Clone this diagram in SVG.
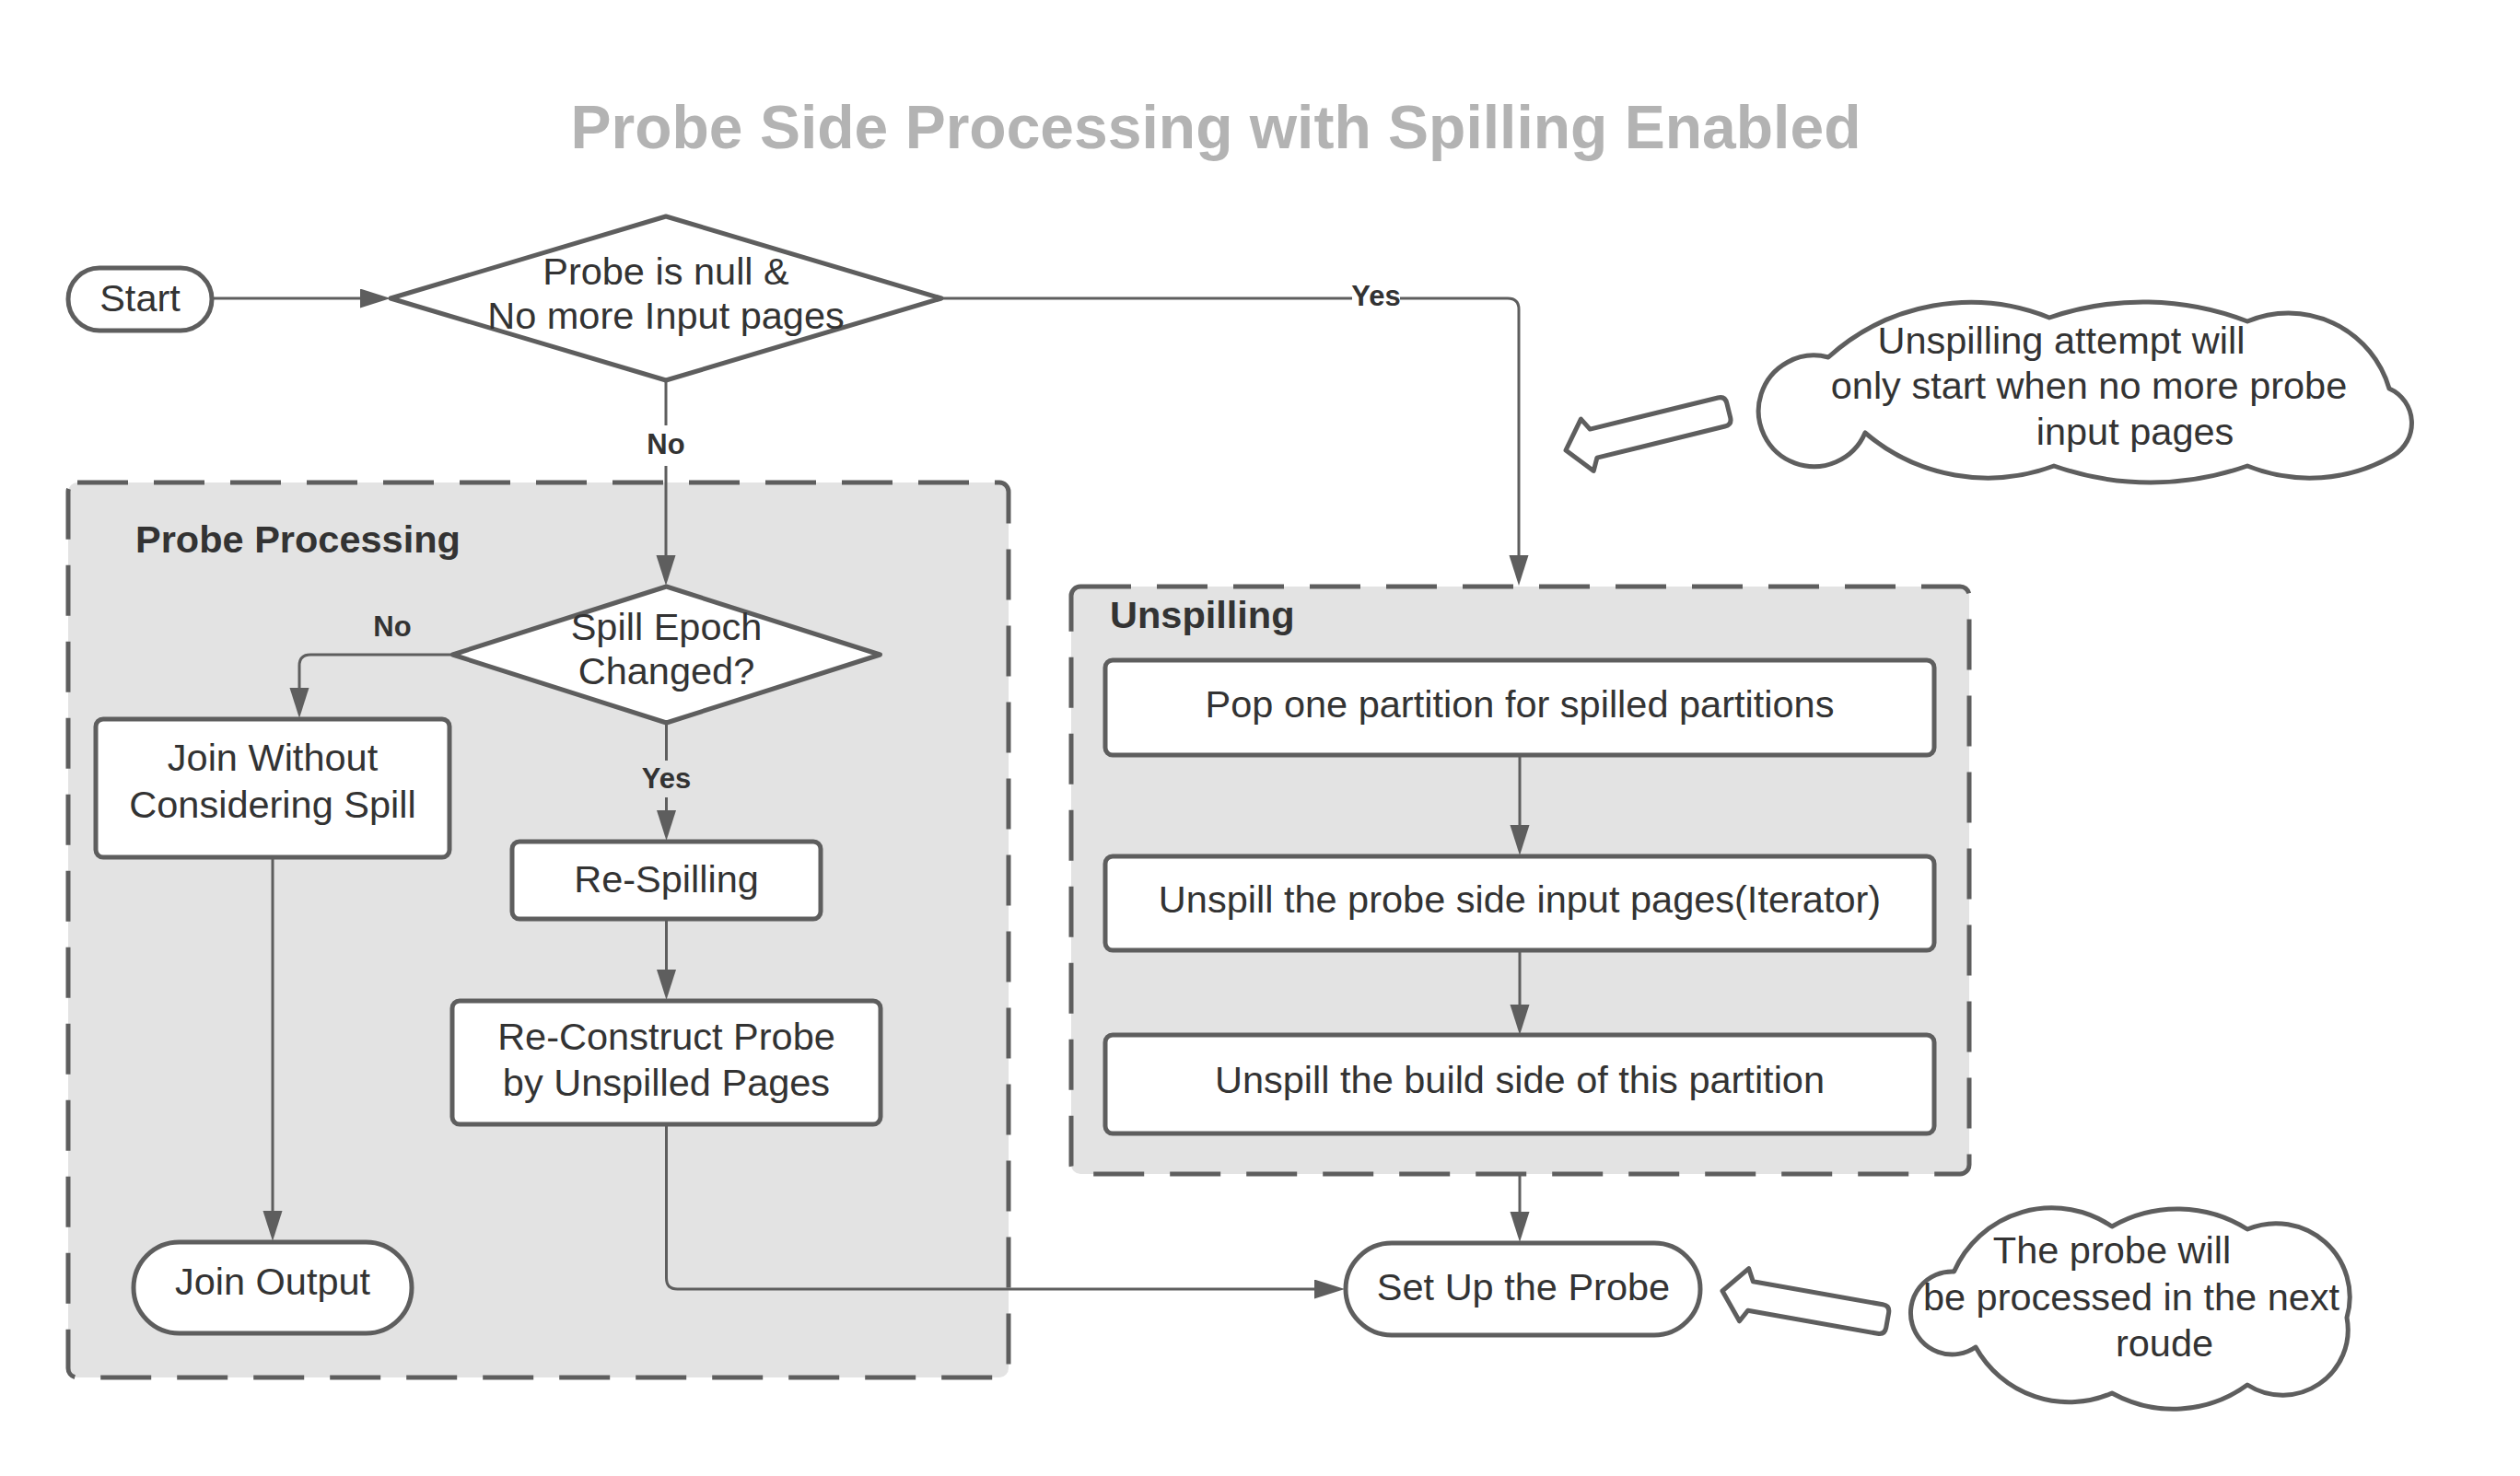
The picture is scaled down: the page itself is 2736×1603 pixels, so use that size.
<svg xmlns="http://www.w3.org/2000/svg" width="2736" height="1603" viewBox="0 0 2736 1603">
<defs>
<style>
.t{font-family:"Liberation Sans",Arial,sans-serif;font-size:41.5px;fill:#333333;text-anchor:middle}
.b{font-weight:bold}
.lbl{font-family:"Liberation Sans",Arial,sans-serif;font-size:31px;font-weight:bold;fill:#333333;text-anchor:middle}
.shape{fill:#ffffff;stroke:#5e5e5e;stroke-width:5;stroke-linejoin:round}
.cont{fill:#e3e3e3;stroke:#5e5e5e;stroke-width:5;stroke-dasharray:55 28}
.conn{fill:none;stroke:#5e5e5e;stroke-width:3}
</style>
<marker id="ah" markerUnits="userSpaceOnUse" markerWidth="40" markerHeight="30" refX="23" refY="10.5" orient="auto">
<path d="M0,0 L33,10.5 L0,21 Z" fill="#5e5e5e"/>
</marker>
</defs>
<rect width="2736" height="1603" fill="#ffffff"/>
<text class="t b" x="1320" y="161" style="font-size:66px;fill:#b3b3b3">Probe Side Processing with Spilling Enabled</text>

<g id="probe-processing">
<rect class="cont" x="74" y="524" width="1021" height="972" rx="10"/>
<text class="t b" x="147" y="600" style="text-anchor:start">Probe Processing</text>
</g>
<g id="unspilling">
<rect class="cont" x="1163" y="637" width="975" height="638" rx="10"/>
<text class="t b" x="1205" y="682" style="text-anchor:start">Unspilling</text>
</g>

<g id="connectors">
<path class="conn" d="M230 324 L414 324" marker-end="url(#ah)"/>
<path class="conn" d="M723 413 L723 462 M723 506 L723 626" marker-end="url(#ah)"/>
<path class="conn" d="M1022 324 L1468 324 M1520 324 L1637 324 Q1649 324 1649 336 L1649 626" marker-end="url(#ah)"/>
<path class="conn" d="M491 711 L337 711 Q325 711 325 723 L325 770" marker-end="url(#ah)"/>
<path class="conn" d="M723.5 785 L723.5 826 M723.5 866 L723.5 903" marker-end="url(#ah)"/>
<path class="conn" d="M723.5 998 L723.5 1076" marker-end="url(#ah)"/>
<path class="conn" d="M296 931 L296 1338" marker-end="url(#ah)"/>
<path class="conn" d="M723.5 1221 L723.5 1388 Q723.5 1400 735.5 1400 L1450 1400" marker-end="url(#ah)"/>
<path class="conn" d="M1650 820 L1650 919" marker-end="url(#ah)"/>
<path class="conn" d="M1650 1032 L1650 1114" marker-end="url(#ah)"/>
<path class="conn" d="M1650 1275 L1650 1339" marker-end="url(#ah)"/>
<text class="lbl" x="723" y="493">No</text>
<text class="lbl" x="1494" y="332">Yes</text>
<text class="lbl" x="426" y="691">No</text>
<text class="lbl" x="723.5" y="856">Yes</text>
</g>

<g id="start">
<rect class="shape" x="74" y="291" width="156" height="68" rx="34"/>
<text class="t" x="152" y="338">Start</text>
</g>
<g id="decision-probe-null">
<polygon class="shape" points="424,324 723,235 1022,324 723,413"/>
<text class="t" x="723" y="309">Probe is null &amp;</text>
<text class="t" x="723" y="357">No more Input pages</text>
</g>
<g id="decision-spill-epoch">
<polygon class="shape" points="491.5,711 723.5,637 955.5,711 723.5,785"/>
<text class="t" x="723.5" y="695">Spill Epoch</text>
<text class="t" x="723.5" y="743">Changed?</text>
</g>
<g id="join-without">
<rect class="shape" x="104" y="781" width="384" height="150" rx="8"/>
<text class="t" x="296" y="837">Join Without</text>
<text class="t" x="296" y="888">Considering Spill</text>
</g>
<g id="re-spilling">
<rect class="shape" x="556" y="914" width="335" height="84" rx="8"/>
<text class="t" x="723.5" y="969">Re-Spilling</text>
</g>
<g id="re-construct">
<rect class="shape" x="491" y="1087" width="465" height="134" rx="8"/>
<text class="t" x="723.5" y="1140">Re-Construct Probe</text>
<text class="t" x="723.5" y="1190">by Unspilled Pages</text>
</g>
<g id="join-output">
<rect class="shape" x="145" y="1349" width="302" height="99" rx="49.5"/>
<text class="t" x="296" y="1406">Join Output</text>
</g>
<g id="pop-partition">
<rect class="shape" x="1200" y="717" width="900" height="103" rx="8"/>
<text class="t" x="1650" y="779">Pop one partition for spilled partitions</text>
</g>
<g id="unspill-probe">
<rect class="shape" x="1200" y="930" width="900" height="102" rx="8"/>
<text class="t" x="1650" y="991">Unspill the probe side input pages(Iterator)</text>
</g>
<g id="unspill-build">
<rect class="shape" x="1200" y="1124" width="900" height="107" rx="8"/>
<text class="t" x="1650" y="1187">Unspill the build side of this partition</text>
</g>
<g id="set-up-probe">
<rect class="shape" x="1461" y="1350" width="385" height="100" rx="50"/>
<text class="t" x="1654" y="1412">Set Up the Probe</text>
</g>

<g id="note-unspilling">
<path class="shape" d="M1985 388 A230 230 0 0 1 2225 345 A314 314 0 0 1 2440 349 A114 114 0 0 1 2594 422 A41 41 0 0 1 2598 495 A181 181 0 0 1 2440 506 A315 315 0 0 1 2230 506 A205 205 0 0 1 2025 470 A60.3 60.3 0 1 1 1985 388 Z"/>
<text class="t" x="2238" y="384">Unspilling attempt will</text>
<text class="t" x="2268" y="433">only start when no more probe</text>
<text class="t" x="2318" y="483">input pages</text>
</g>
<g id="arrow-note-unspilling">
<path class="shape" transform="translate(1700,489) rotate(-13.8)" d="M0 0 L24 -29 L31 -16 L174 -16 Q182 -16 182 -8 L182 8 Q182 16 174 16 L31 16 L24 29 Z"/>
</g>
<g id="note-next-round">
<path class="shape" d="M2121.5 1381 A116 116 0 0 1 2293 1332 A142 142 0 0 1 2440 1335 A80 80 0 0 1 2548 1431 A71 71 0 0 1 2440 1504 A137 137 0 0 1 2293 1513 A116 116 0 0 1 2145 1463 A45 45 0 1 1 2121.5 1381 Z"/>
<text class="t" x="2293" y="1372">The probe will</text>
<text class="t" x="2314" y="1423">be processed in the next</text>
<text class="t" x="2350" y="1473">roude</text>
</g>
<g id="arrow-note-next-round">
<path class="shape" transform="translate(1870,1402) rotate(10.1)" d="M0 0 L24 -29 L31 -16 L174 -16 Q182 -16 182 -8 L182 8 Q182 16 174 16 L31 16 L24 29 Z"/>
</g>
</svg>
